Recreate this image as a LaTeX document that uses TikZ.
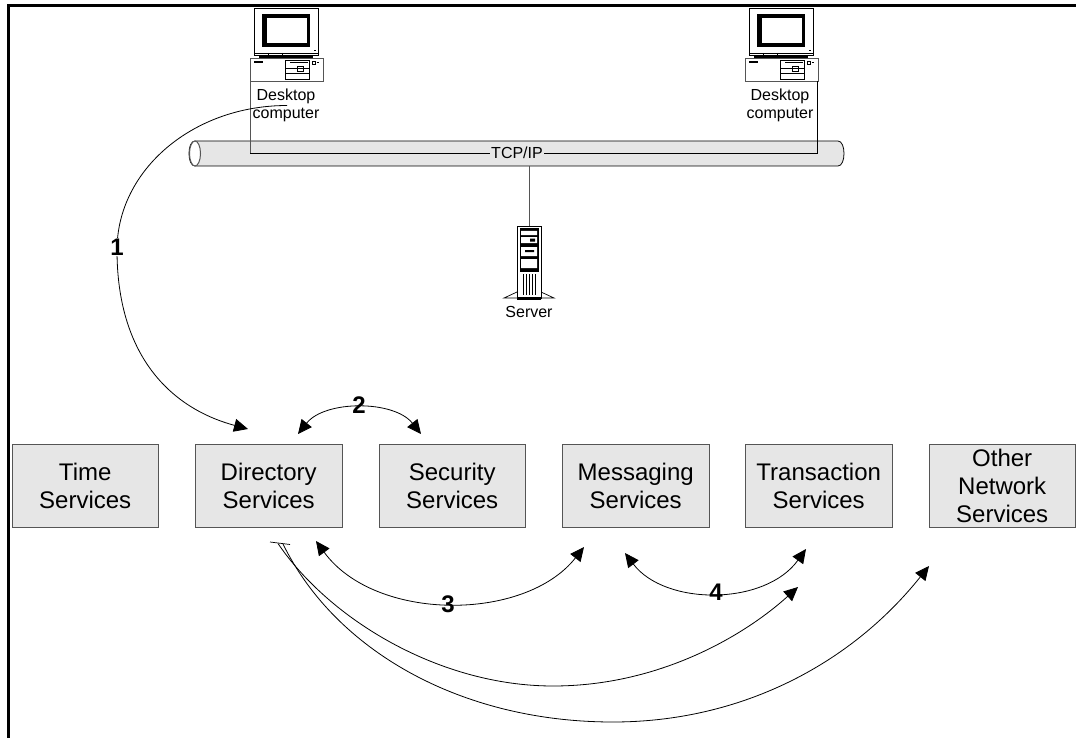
\documentclass[tikz,border=0pt]{standalone}
\usepackage{fontspec}
\setmainfont{Liberation Sans}
\usetikzlibrary{arrows.meta}
\definecolor{boxfill}{HTML}{E6E6E6}
\definecolor{edgegray}{HTML}{555555}
\tikzset{
  x=1pt,y=-1pt,
  svc/.style={draw=edgegray,line width=0.9pt,fill=boxfill,minimum width=146.5pt,minimum height=83pt,inner sep=0pt,align=center,font=\fontsize{24}{28}\selectfont,anchor=north west},
  captxt/.style={align=center,inner sep=0pt,font=\fontsize{16}{18.5}\selectfont},
  numtxt/.style={inner sep=1pt,fill=white,font=\fontsize{24}{26}\selectfont\bfseries},
  curveline/.style={line width=0.8pt},
  onetip/.style={curveline,-{Triangle[length=14pt,width=13pt]}},
  twotips/.style={curveline,{Triangle[length=14pt,width=13pt]}-{Triangle[length=14pt,width=13pt]}},
  fineline/.style={line width=0.7pt},
  pcicon/.pic={
    \draw[fineline,fill=white] (254,8) rectangle (318,55);
    \fill[black] (262,14) rectangle (310,47);
    \fill[white] (266.5,18) rectangle (307,43);
    \fill[black] (314,50) rectangle (316,51);
    \draw[fineline] (254,53) -- (318,53) (268,53) -- (268,55) (282,53) -- (282,55);
    \fill[black] (259,55.5) rectangle (313,58.5);
    \draw[fineline,draw=edgegray,fill=white] (250,58) rectangle (323,81);
    \fill[black] (254,61) rectangle (263,63.5);
    \draw[fineline] (285.5,60.5) rectangle (309,79);
    \draw[fineline] (290,62.5) -- (308,62.5) (285.5,73) -- (309,73) (286,68) -- (309,68);
    \draw[fineline] (297,66) rectangle (303,71);
    \draw[fineline] (312,61) rectangle (315,64) (316.5,62) -- (319,62);
  }
}
\begin{document}
\begin{tikzpicture}
\useasboundingbox (0,0) rectangle (1076,738);
% frame
\coordinate (frametl) at (8.5,5.5);
\coordinate (frametr) at (1076,5.5);
\coordinate (framebl) at (8.5,738);
\draw[line width=2.4pt] (framebl) -- (frametl) -- (frametr);
% pipe
\coordinate (pipeNW) at (195,141);
\coordinate (pipeNE) at (838,141);
\coordinate (pipeSE) at (838,166);
\coordinate (pipeSW) at (195,166);
\draw[line width=0.8pt,fill=boxfill] (pipeNW) -- (pipeNE) .. controls (846,141) and (846,166) .. (pipeSE) -- (pipeSW) .. controls (187,166) and (187,141) .. (pipeNW) -- cycle;
\draw[line width=1pt,draw=edgegray,fill=white] (195,153.5) ellipse [x radius=5.5,y radius=12.5];
% computers
\pic (pca) at (0,0) {pcicon};
\pic (pcb) at (495,0) {pcicon};
\coordinate (pcafoot) at (250,81);
\coordinate (pcbfoot) at (817,81);
\coordinate (bendl) at (250,153);
\coordinate (bendr) at (817,153);
\draw[fineline,draw=edgegray] (pcafoot) -- (bendl);
\draw[fineline] (bendl) -- (bendr) -- (pcbfoot);
\node[captxt] (deska) at (286,105.5) {Desktop\\computer};
\node[captxt] (deskb) at (780,105.5) {Desktop\\computer};
\node[inner sep=1pt,fill=boxfill,font=\fontsize{16}{18}\selectfont] (tcp) at (517,153) {TCP/IP};
% server
\coordinate (srvtop) at (529,226);
\coordinate (pipebot) at (529,166);
\draw[line width=1pt,draw=edgegray] (pipebot) -- (srvtop);
\draw[fineline] (517,292) -- (504,298) -- (517,298) (541,292) -- (554,298) -- (541,298);
\draw[fineline,fill=white] (517,226) rectangle (541,298);
\fill[black] (519.5,228) rectangle (538.5,272);
\fill[white] (521,231) rectangle (537,235) (521,237) rectangle (537,243) (521,247) rectangle (537,256) (521,259) rectangle (537,268);
\fill[black] (530,238.5) rectangle (535,241.5) (525,250) rectangle (534,252);
\foreach \gx in {522.5,525.5,528.5,531.5,534.5}{\fill[black] (\gx,274) rectangle (\gx+1.6,295);}
\fill[black] (517,296.5) rectangle (541,299.5);
\node[captxt] (srv) at (529,312) {Server};
% service boxes
\node[svc] (time) at (11.5,444) {Time\\Services};
\node[svc] (dir) at (195,444) {Directory\\Services};
\node[svc] (sec) at (378.5,444) {Security\\Services};
\node[svc] (msg) at (562,444) {Messaging\\Services};
\node[svc] (trn) at (745,444) {Transaction\\Services};
\node[svc] (oth) at (928.5,444) {Other\\Network\\Services};
% curve 1
\coordinate (c1s) at (287,105.5);
\coordinate (c1m) at (117,250);
\coordinate (c1e) at (248,429);
\draw[onetip] (c1s) .. controls (193,105.5) and (117,170) .. (c1m) .. controls (117,355) and (170,408) .. (c1e);
\node[numtxt] (n1) at (117,247) {1};
% curve 2
\coordinate (c2a) at (298,434);
\coordinate (c2b) at (421,434);
\draw[twotips] (c2a) .. controls (325,400) and (394,400) .. (c2b);
\node[numtxt,fill=none] (n2) at (359,405) {2};
% curve 3
\coordinate (c3a) at (316,541);
\coordinate (c3b) at (584,547);
\draw[twotips] (c3a) .. controls (375,622) and (525,622) .. (c3b);
\node[numtxt,fill=none] (n3) at (448,604) {3};
% curve 4
\coordinate (c4a) at (625,553);
\coordinate (c4b) at (806,549);
\draw[twotips] (c4a) .. controls (665,606) and (765,606) .. (c4b);
\node[numtxt,fill=none] (n4) at (716,592) {4};
% long curves
\coordinate (lhl) at (270,542);
\coordinate (lhr) at (290,544.5);
\draw[fineline] (lhl) -- (lhr);
\coordinate (las) at (278,543.5);
\coordinate (lam) at (553,686);
\coordinate (lae) at (798,587);
\draw[onetip] (las) .. controls (330,620) and (440,686) .. (lam) .. controls (660,686) and (745,635) .. (lae);
\coordinate (lbs) at (283,544);
\coordinate (lbm) at (613,722);
\coordinate (lbe) at (929,566);
\draw[onetip] (lbs) .. controls (335,650) and (460,722) .. (lbm) .. controls (740,722) and (850,665) .. (lbe);
\end{tikzpicture}
\end{document}
